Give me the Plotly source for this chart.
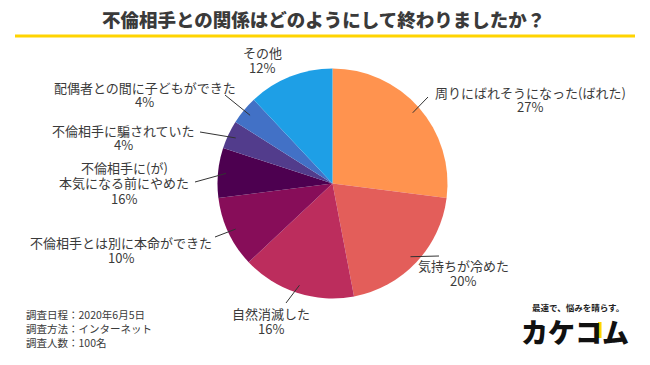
import math
import plotly.graph_objects as go

# ---------------- data ----------------
categories = [
    "周りにばれそうになった(ばれた)",
    "気持ちが冷めた",
    "自然消滅した",
    "不倫相手とは別に本命ができた",
    "不倫相手に(が)<br>本気になる前にやめた",
    "不倫相手に騙されていた",
    "配偶者との間に子どもができた",
    "その他",
]
slice_values = [27, 20, 16, 10, 7, 4, 4, 12]
label_pct = ["27%", "20%", "16%", "10%", "16%", "4%", "4%", "12%"]
colors = ["#FF934F", "#E35E5A", "#BC2D5D", "#870D59", "#4D0050",
          "#523C8C", "#4271C6", "#1E9FE6"]

title_text = "不倫相手との関係はどのようにして終わりましたか？"
footer_lines = ["調査日程：2020年6月5日", "調査方法：インターネット", "調査人数：100名"]

# ---------------- layout (pixels) ----------------
W, H = 650, 365
CX, CY, R = 332.5, 183.5, 115.0

# label block: center x, first-line center y, line spacing
label_pos = [(530, 92), (463, 265), (271, 313), (121, 242),
             (124, 167), (123, 130), (144.5, 87), (262, 53)]
line_gap = [14.5, 15, 15, 15, 15.5, 14.5, 15, 14.5]
# connector end points (None = no connector)
conn_end = [(428, 97), (439, 256), (286, 303), (215, 237),
            (195, 182), (200, 132), (225, 95), None]

TXT = "#3a3a3a"
FONT = "Noto Sans CJK JP"


def px(x):
    return x / W


def py(y):
    return 1 - y / H


fig = go.Figure()
fig.add_trace(go.Pie(
    labels=[c.replace("<br>", "") for c in categories],
    values=slice_values,
    sort=False,
    direction="clockwise",
    rotation=0,
    marker=dict(colors=colors, line=dict(width=0)),
    textinfo="none",
    hoverinfo="skip",
    showlegend=False,
    domain=dict(x=[px(CX - R), px(CX + R)], y=[py(CY + R), py(CY - R)]),
))

annotations = []
shapes = []

# title
annotations.append(dict(
    x=px(323.5), y=py(19), xref="paper", yref="paper",
    text=title_text, showarrow=False, xanchor="center", yanchor="middle",
    font=dict(family=FONT, size=18.5, color=TXT, weight=900),
))
shapes.append(dict(type="line", xref="paper", yref="paper",
                   x0=px(15), x1=px(635), y0=py(36), y1=py(36),
                   line=dict(color="#FFD400", width=3)))

# slice labels + connectors
total = sum(slice_values)
cum = 0.0
for i, (cat, v) in enumerate(zip(categories, slice_values)):
    mid = (cum + v / 2) / total * 2 * math.pi
    cum += v
    lines = cat.split("<br>") + [label_pct[i]]
    lx, ly = label_pos[i]
    for k, t in enumerate(lines):
        annotations.append(dict(
            x=px(lx), y=py(ly + k * line_gap[i]), xref="paper", yref="paper",
            text=t, showarrow=False, xanchor="center", yanchor="middle",
            borderpad=0,
            font=dict(family=FONT, size=13, color=TXT),
        ))
    if conn_end[i] is not None:
        rs = 0.93 * R
        sx = CX + rs * math.sin(mid)
        sy = CY - rs * math.cos(mid)
        ex, ey = conn_end[i]
        shapes.append(dict(type="line", xref="paper", yref="paper",
                           x0=px(sx), y0=py(sy), x1=px(ex), y1=py(ey),
                           line=dict(color="#333333", width=1)))

# footer
for k, t in enumerate(footer_lines):
    annotations.append(dict(
        x=px(25), y=py(314 + k * 14), xref="paper", yref="paper",
        text=t, showarrow=False, xanchor="left", yanchor="middle",
        borderpad=0,
        font=dict(family=FONT, size=10.5, color=TXT),
    ))

# logo
annotations.append(dict(
    x=px(578), y=py(307), xref="paper", yref="paper",
    text="最速で、悩みを晴らす。", showarrow=False, xanchor="center", yanchor="middle",
    font=dict(family=FONT, size=8.5, color="#222222", weight=700),
))
annotations.append(dict(
    x=px(575), y=py(331), xref="paper", yref="paper",
    text="カケコム", showarrow=False, xanchor="center", yanchor="middle",
    font=dict(family=FONT, size=27, color="#111111", weight=900),
))
shapes.append(dict(type="rect", xref="paper", yref="paper",
                   x0=px(598), x1=px(601.5), y0=py(338), y1=py(322),
                   fillcolor="#FFD400", line=dict(width=0)))

fig.update_layout(
    width=W, height=H,
    margin=dict(l=0, r=0, t=0, b=0),
    paper_bgcolor="white", plot_bgcolor="white",
    annotations=annotations, shapes=shapes,
    font=dict(family=FONT),
)

fig.write_html(
    "out.html",
    config={"displayModeBar": False},
    post_script="document.body.style.margin='0';document.body.style.overflow='hidden';",
)
